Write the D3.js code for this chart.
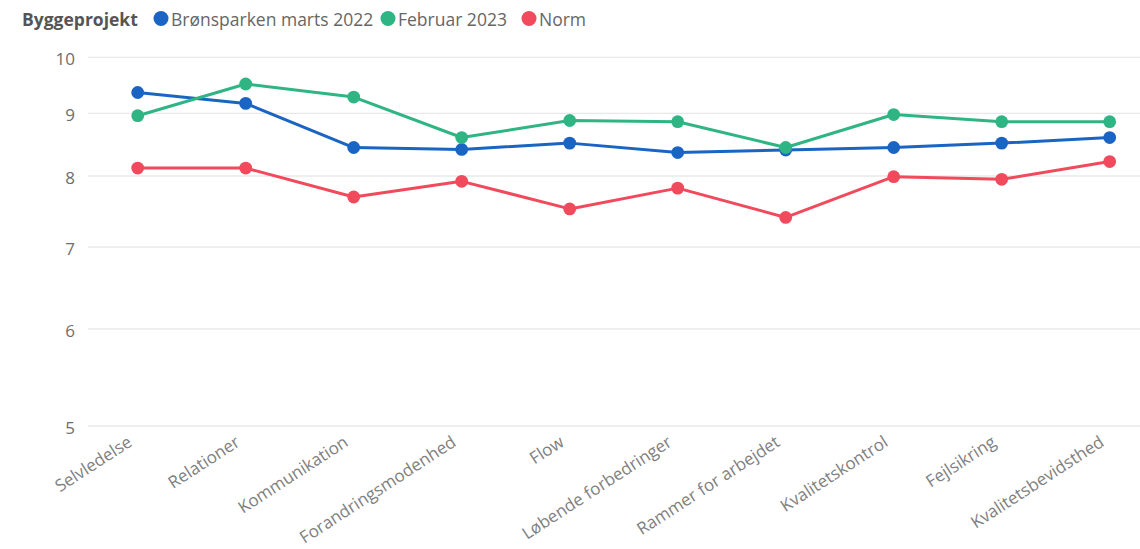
<!DOCTYPE html>
<html><head><meta charset="utf-8">
<script src="https://cdn.jsdelivr.net/npm/d3@7"></script>
<style>
html,body{margin:0;padding:0;background:#fff;}
svg text{font-family:"Open Sans","Noto Sans",sans-serif;}
</style></head>
<body><svg id="c" width="1140" height="549"></svg>
<script>
const categories = ["Selvledelse","Relationer","Kommunikation","Forandringsmodenhed","Flow","Løbende forbedringer","Rammer for arbejdet","Kvalitetskontrol","Fejlsikring","Kvalitetsbevidsthed"];
const seriesNames = ["Brønsparken marts 2022","Februar 2023","Norm"];
const bronsparken2022 = [9.36,9.17,8.44,8.41,8.51,8.36,8.40,8.44,8.51,8.60];
const februar2023 = [8.96,9.51,9.28,8.60,8.88,8.86,8.44,8.98,8.86,8.86];
const norm = [8.12,8.12,7.69,7.92,7.52,7.82,7.40,7.99,7.95,8.22];
const yTicks = [5,6,7,8,9,10];
const colors = ["#1a64c4","#2fb584","#f04a5c"];
const legendTitle = "Byggeprojekt";

const svg = d3.select("#c");
const x = d3.scalePoint().domain(categories).range([83.7,1163.7]).padding(0.5);
const y = d3.scaleLog().domain([5,10]).range([426,57.3]);

// gridlines
svg.append("g").selectAll("line").data(yTicks).join("line")
  .attr("x1",88).attr("x2",1140)
  .attr("y1",d=>y(d)).attr("y2",d=>y(d))
  .attr("stroke","#e8e8e8").attr("stroke-width",1.3);

// y axis labels
const yAxis = d3.axisLeft(y).tickValues(yTicks).tickFormat(d3.format("d")).tickSize(0).tickPadding(0);
const ya = svg.append("g").attr("transform","translate(75,2)").call(yAxis);
ya.select(".domain").remove();
ya.selectAll("text").attr("fill","#6e6e6e").style("font-size","17px");

// x axis labels
const xAxis = d3.axisBottom(x).tickSize(0).tickPadding(0);
const xa = svg.append("g").call(xAxis);
xa.select(".domain").remove();
xa.selectAll("text").attr("fill","#808080").style("font-size","17px")
  .attr("text-anchor","end").attr("x",0).attr("y",0).attr("dy",null)
  .attr("transform","translate(-5,445) rotate(-33)");

// lines
const seriesData = [bronsparken2022, februar2023, norm];
const line = d3.line().x((d,i)=>x(categories[i])).y(d=>y(d));
seriesData.forEach((s,k)=>{
  const g = svg.append("g");
  g.append("path").datum(s).attr("d",line).attr("fill","none")
    .attr("stroke",colors[k]).attr("stroke-width",3).attr("stroke-linejoin","round");
  g.selectAll("circle").data(s).join("circle")
    .attr("cx",(d,i)=>x(categories[i])).attr("cy",d=>y(d)).attr("r",6.4)
    .attr("fill",colors[k]);
});

// legend
const lg = svg.append("g");
lg.append("text").attr("x",22).attr("y",25.5).text(legendTitle)
  .attr("fill","#555").style("font-size","17.5px").style("font-weight","bold");
const legendCx = [161, 388, 529];
seriesNames.forEach((n,k)=>{
  lg.append("circle").attr("cx",legendCx[k]).attr("cy",18.5).attr("r",7.5).attr("fill",colors[k]);
  lg.append("text").attr("x",legendCx[k]+10).attr("y",25.5).text(n)
    .attr("fill","#666").style("font-size","17.5px");
});
</script></body></html>
